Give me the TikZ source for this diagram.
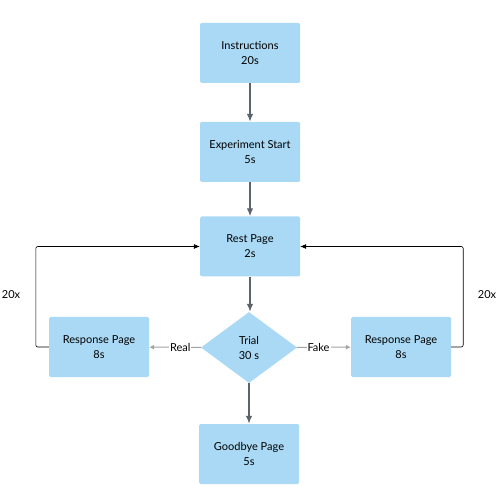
\documentclass[tikz,border=0pt]{standalone}
\usepackage{fontspec}
\setmainfont{Lato}
\usetikzlibrary{positioning,calc,arrows,arrows.meta,shapes.geometric}
\definecolor{pageblue}{HTML}{A9D9F4}
\definecolor{flowgrey}{HTML}{5B636B}
\definecolor{sidegrey}{HTML}{A3A3A3}
\tikzset{pagebox/.style={rectangle,fill=pageblue,rounded corners=1.5pt,minimum width=100pt,minimum height=60pt,inner sep=0pt,align=center,font=\fontsize{11}{15}\selectfont}  }
\tikzset{trialbox/.style={diamond,fill=pageblue,minimum width=96pt,minimum height=71pt,inner sep=0pt,align=center,font=\fontsize{11}{15}\selectfont}  }
\tikzset{flow/.style={-{Latex[length=8pt,width=6.5pt]},draw=flowgrey,line width=1.4pt}  }
\tikzset{side/.style={-{Latex[length=5pt,width=5pt]},draw=sidegrey,line width=1pt}  }
\tikzset{backloop/.style={-{Latex[length=6pt,width=5pt]},draw=black,line width=0.6pt,rounded corners=2pt}  }
\tikzset{>={Latex}}

\begin{document}
\begin{tikzpicture}[x=1pt,y=-1pt]
		\useasboundingbox (0,0) rectangle (498,486);
			\node[pagebox] (instr) at (250,53) {Instructions\\20s};
			\node[pagebox] (start) at (250,152) {Experiment Start\\5s};
			\node[pagebox] (rest) at (250,246.5) {Rest Page\\2s};
			\node[trialbox] (trial) at (249,347.5) {Trial\\30 s};
			\node[pagebox] (respL) at (99,347) {Response Page\\8s};
			\node[pagebox] (respR) at (401,347) {Response Page\\8s};
			\node[pagebox] (bye) at (249,454) {Goodbye Page\\5s};

			\draw[flow] (instr) -- (start);
			\draw[flow] (start) -- (rest);
			\draw[flow] (rest.south) -- (rest.south |- trial.north);
			\draw[flow] (trial) -- (bye);

			\draw[side] (trial) -- node[fill=white,inner sep=1pt,pos=0.4,font=\fontsize{11}{12}\selectfont] {Real} (respL);
			\draw[side] (trial) -- node[fill=white,inner sep=1pt,pos=0.4,font=\fontsize{11}{12}\selectfont] {Fake} (respR);

			\draw[backloop] (respL.west) -- ++(-13,0) |- (rest.west);
			\draw[backloop] (respR.east) -- ++(12,0) |- (rest.east);
				\node[font=\fontsize{11}{12}\selectfont] (countL) at (11,295) {20x};
				\node[font=\fontsize{11}{12}\selectfont] (countR) at (487,295) {20x};
	\end{tikzpicture}
\end{document}
